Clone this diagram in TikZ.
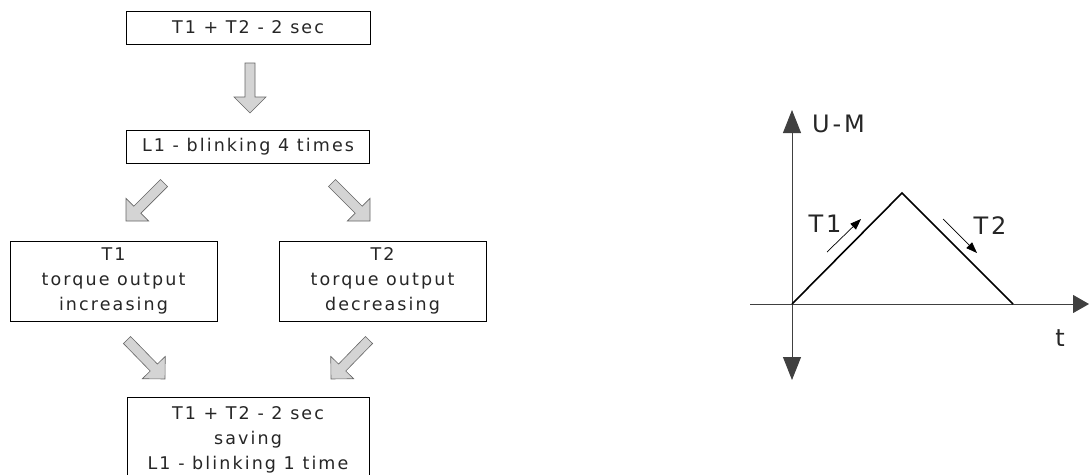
\documentclass[tikz,border=0pt]{standalone}
\usepackage{fontspec}
\setmainfont{DejaVu Sans}[LetterSpace=12]
\usetikzlibrary{arrows.meta,calc}
\tikzset{
  box/.style={draw=black, line width=0.8pt, inner sep=0pt, align=center, text=black!85,
    font=\fontsize{17.5}{25}\selectfont},
  blk/.style={draw=black!60, fill=black!17, line width=0.6pt, line join=miter},
  axis/.style={draw=black!75, line width=0.9pt},
  curve/.style={draw=black, line width=1.6pt},
  lbl/.style={text=black!85, font=\fontsize{24}{26}\selectfont, inner sep=0pt},
  small/.style={draw=black, line width=0.7pt, -{Triangle[length=11pt,width=8pt]}}
}
\newcommand{\blockarrow}[2]{%
  \draw[blk] ($(#1)!5pt!90:(#2)$) -- ($($(#2)!16pt!(#1)$)!5pt!90:(#2)$)
    -- ($($(#2)!16pt!(#1)$)!16pt!90:(#2)$) -- (#2)
    -- ($($(#2)!16pt!(#1)$)!16pt!-90:(#2)$) -- ($($(#2)!16pt!(#1)$)!5pt!-90:(#2)$)
    -- ($(#1)!5pt!-90:(#2)$) -- cycle;}
\begin{document}
\begin{tikzpicture}[x=1pt,y=-1pt]
\clip (0,0) rectangle (1089,474);
\fill[white] (0,0) rectangle (1089,474);
% boxes
\node[box, minimum width=244pt, minimum height=33pt] (b1) at (248,27.5) {T1 + T2 - 2 sec};
\node[box, minimum width=243pt, minimum height=33pt] (b2) at (248,147) {L1 - blinking 4 times};
\node[box, minimum width=207pt, minimum height=80pt] (b3) at (113.5,281) {T1\\torque output\\increasing};
\node[box, minimum width=207pt, minimum height=80pt] (b4) at (382.5,281) {T2\\torque output\\decreasing};
\node[box, minimum width=242pt, minimum height=86pt] (b5) at (248,440) {T1 + T2 - 2 sec\\saving\\L1 - blinking 1 time};
% block arrows
\coordinate (a1s) at (250,63);  \coordinate (a1e) at (250,113);
\coordinate (a2s) at (164,183); \coordinate (a2e) at (126,221);
\coordinate (a3s) at (332,183); \coordinate (a3e) at (370,221);
\coordinate (a4s) at (127,340); \coordinate (a4e) at (165,379);
\coordinate (a5s) at (369,340); \coordinate (a5e) at (331,379);
\blockarrow{a1s}{a1e}
\blockarrow{a2s}{a2e}
\blockarrow{a3s}{a3e}
\blockarrow{a4s}{a4e}
\blockarrow{a5s}{a5e}
% graph
\coordinate (o) at (792,304);
\coordinate (yt) at (792,110);
\coordinate (yb) at (792,380);
\coordinate (xl) at (750,304);
\coordinate (xr) at (1089,304);
\coordinate (pk) at (902,193);
\coordinate (ze) at (1013,304);
\draw[axis, -{Triangle[length=23pt,width=18pt]}] (o) -- (yt);
\draw[axis, -{Triangle[length=23pt,width=18pt]}] (o) -- (yb);
\draw[axis, -{Triangle[length=16pt,width=18pt]}] (xl) -- (xr);
\draw[curve, line join=miter] (o) -- (pk) -- (ze);
\coordinate (s1a) at (827,252); \coordinate (s1b) at (861,219);
\coordinate (s2a) at (943,219); \coordinate (s2b) at (977,253);
\draw[small] (s1a) -- (s1b);
\draw[small] (s2a) -- (s2b);
\node[lbl, anchor=west] (um) at (812,124) {U-M};
\node[lbl] (t1) at (825,224) {T1};
\node[lbl] (t2) at (990,226) {T2};
\node[lbl] (tt) at (1060,338) {t};
\end{tikzpicture}
\end{document}
